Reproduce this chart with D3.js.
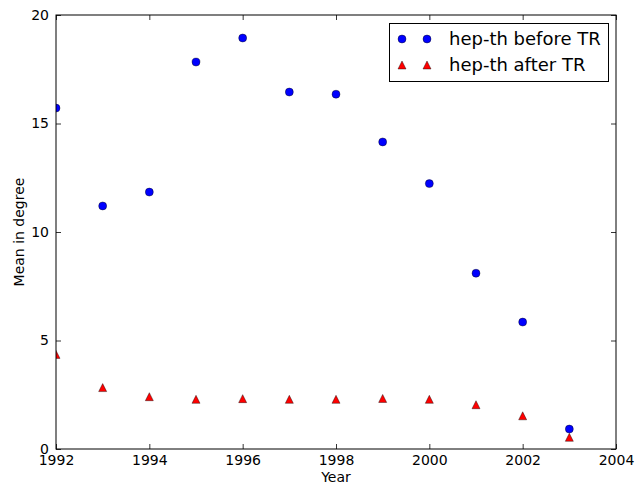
<!DOCTYPE html>
<html><head><meta charset="utf-8">
<script src="https://cdn.jsdelivr.net/npm/d3@7"></script>
<style>body{margin:0;background:#fff}svg{display:block}text{font-family:"DejaVu Sans",sans-serif;fill:#000}</style>
</head><body>
<script>
const years = [1992,1993,1994,1995,1996,1997,1998,1999,2000,2001,2002,2003];
const beforeTR = [15.71,11.20,11.84,17.83,18.94,16.45,16.35,14.15,12.23,8.10,5.85,0.92];
const afterTR = [4.36,2.83,2.41,2.29,2.32,2.29,2.29,2.33,2.29,2.04,1.53,0.54];
const xTicks = [1992,1994,1996,1998,2000,2002,2004];
const yTicks = [0,5,10,15,20];
const seriesNames = ["hep-th before TR","hep-th after TR"];

const W=635,H=484, L=56,R=616,T=15,B=449;
const svg=d3.select("body").append("svg").attr("width",W).attr("height",H);
const x=d3.scaleLinear().domain([1992,2004]).range([L,R]);
const y=d3.scaleLinear().domain([0,20]).range([B,T]);

const clip=svg.append("clipPath").attr("id","c").append("rect").attr("x",L).attr("y",T).attr("width",R-L).attr("height",B-T);
const plot=svg.append("g").attr("clip-path","url(#c)");
plot.selectAll("circle").data(years).enter().append("circle")
  .attr("cx",(d)=>x(d)).attr("cy",(d,i)=>y(beforeTR[i])).attr("r",4)
  .attr("fill","#0000ff").attr("stroke","#000").attr("stroke-width",0.4);
const tri=d3.symbol().type(d3.symbolTriangle).size(40);
function triPath(){ // matplotlib-style triangle_up, half-size 4
  return "M0,-4L4,4L-4,4Z";
}
plot.selectAll("path.t").data(years).enter().append("path").attr("class","t")
  .attr("d",triPath()).attr("transform",(d,i)=>`translate(${x(d)},${y(afterTR[i])})`)
  .attr("fill","#ff0000").attr("stroke","#000").attr("stroke-width",0.4);

// axes with inside ticks
const tk=5;
const gx=svg.append("g").attr("transform",`translate(0,${B})`)
  .call(d3.axisBottom(x).tickValues(xTicks).tickFormat(d3.format("d")).tickSizeInner(-tk).tickSizeOuter(0).tickPadding(6));
const gxt=svg.append("g").attr("transform",`translate(0,${T})`)
  .call(d3.axisTop(x).tickValues(xTicks).tickFormat("").tickSizeInner(-tk).tickSizeOuter(0));
const gy=svg.append("g").attr("transform",`translate(${L},0)`)
  .call(d3.axisLeft(y).tickValues(yTicks).tickSizeInner(-tk).tickSizeOuter(0).tickPadding(7));
const gyr=svg.append("g").attr("transform",`translate(${R},0)`)
  .call(d3.axisRight(y).tickValues(yTicks).tickFormat("").tickSizeInner(-tk).tickSizeOuter(0));
[gx,gxt,gy,gyr].forEach(g=>{g.select(".domain").remove();g.selectAll("line").attr("stroke","#000").attr("stroke-width",0.8);g.selectAll("text").attr("font-size",14).attr("fill","#000").style("font-family","DejaVu Sans");});
gx.selectAll("text").attr("dy","0.71em");
svg.append("rect").attr("x",L).attr("y",T).attr("width",R-L).attr("height",B-T).attr("fill","none").attr("stroke","#000").attr("stroke-width",1);

svg.append("text").attr("x",(L+R)/2).attr("y",482).attr("text-anchor","middle").attr("font-size",14).text("Year");
svg.append("text").attr("transform",`translate(24,${(T+B)/2}) rotate(-90)`).attr("text-anchor","middle").attr("font-size",14).text("Mean in degree");

// legend
const lg=svg.append("g");
lg.append("rect").attr("x",389.5).attr("y",23.5).attr("width",219).attr("height",58).attr("fill","#fff").attr("stroke","#000").attr("stroke-width",1);
[0,1].forEach(i=>{
  const yy=39+i*26;
  [402,427].forEach(xx=>{
    if(i===0) lg.append("circle").attr("cx",xx).attr("cy",yy).attr("r",4).attr("fill","#0000ff").attr("stroke","#000").attr("stroke-width",0.4);
    else lg.append("path").attr("d",triPath()).attr("transform",`translate(${xx},${yy})`).attr("fill","#ff0000").attr("stroke","#000").attr("stroke-width",0.4);
  });
  lg.append("text").attr("x",449).attr("y",yy).attr("dy","0.35em").attr("font-size",18).text(seriesNames[i]);
});
</script>
</body></html>
